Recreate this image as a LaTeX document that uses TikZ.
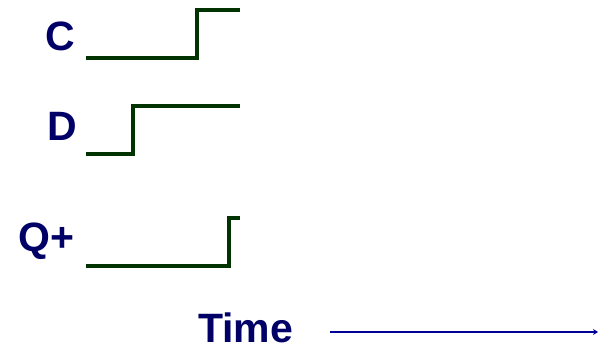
\documentclass[tikz,border=0pt]{standalone}
\usepackage{fontspec}
\setmainfont{Liberation Sans}
\usetikzlibrary{arrows.meta}
\definecolor{txtnavy}{HTML}{000066}
\definecolor{siggreen}{HTML}{003300}
\definecolor{timeblue}{HTML}{000099}
\begin{document}
\begin{tikzpicture}[x=1pt,y=-1pt,
  lbl/.style={inner sep=0pt,anchor=base west,text=txtnavy,font=\fontsize{41}{41}\selectfont\bfseries},
  sig/.style={draw=siggreen,line width=3.5pt,line join=miter}]
\useasboundingbox (0,0) rectangle (598,351);
\node[lbl] (c) at (45,50) {C};
\node[lbl] (d) at (47,140) {D};
\node[lbl] (q) at (18,251) {Q+};
\node[lbl] (t) at (198,342) {Time};
\coordinate (c0) at (86,58);
\coordinate (c1) at (240,10);
\draw[sig] (c0) -- (197,58) -- (197,10) -- (c1);
\coordinate (d0) at (86,154);
\coordinate (d1) at (240,106);
\draw[sig] (d0) -- (133,154) -- (133,106) -- (d1);
\coordinate (q0) at (86,266);
\coordinate (q1) at (240,218);
\draw[sig] (q0) -- (229,266) -- (229,218) -- (q1);
\coordinate (ta) at (330,332);
\coordinate (tb) at (598,332);
\draw[timeblue,line width=2.5pt,-{Stealth[length=5pt,width=6pt]}] (ta) -- (tb);
\end{tikzpicture}
\end{document}
